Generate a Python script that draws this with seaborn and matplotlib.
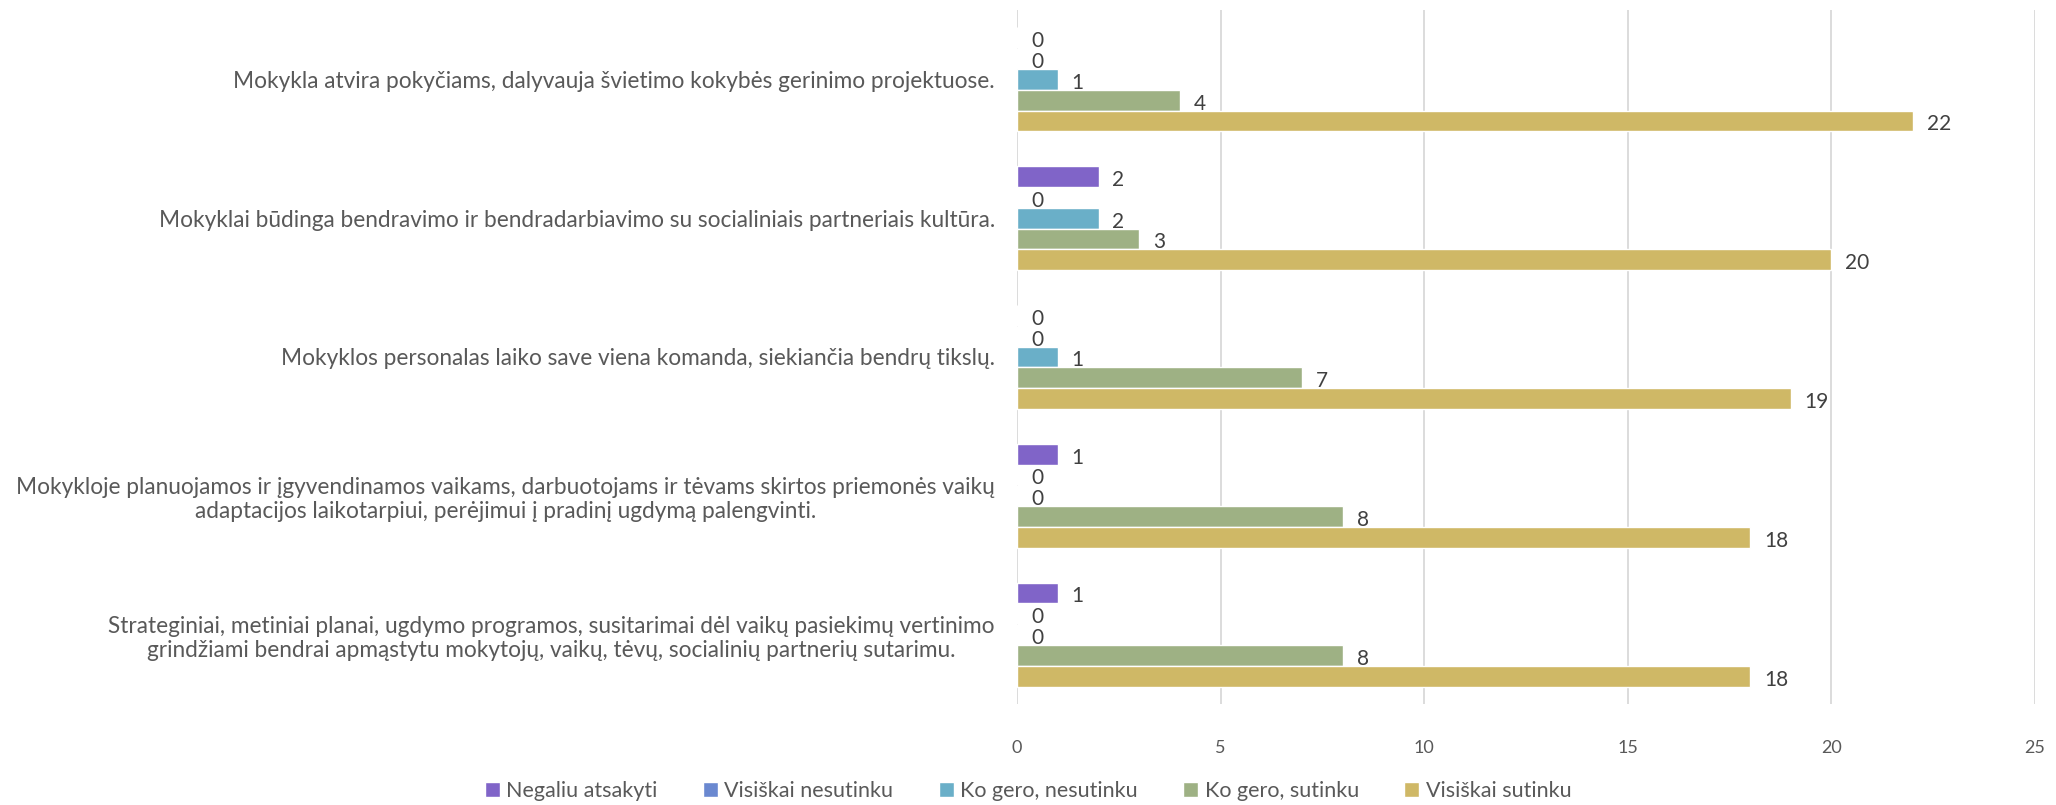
import matplotlib
matplotlib.use("Agg")
import matplotlib.pyplot as plt
import seaborn as sns
import pandas as pd

categories = [
    "Mokykla atvira pokyčiams, dalyvauja švietimo kokybės gerinimo projektuose.",
    "Mokyklai būdinga bendravimo ir bendradarbiavimo su socialiniais partneriais kultūra.",
    "Mokyklos personalas laiko save viena komanda, siekiančia bendrų tikslų.",
    "Mokykloje planuojamos ir įgyvendinamos vaikams, darbuotojams ir tėvams skirtos priemonės vaikų\nadaptacijos laikotarpiui, perėjimui į pradinį ugdymą palengvinti.",
    "Strateginiai, metiniai planai, ugdymo programos, susitarimai dėl vaikų pasiekimų vertinimo\ngrindžiami bendrai apmąstytu mokytojų, vaikų, tėvų, socialinių partnerių sutarimu.",
]
series = ["Negaliu atsakyti", "Visiškai nesutinku", "Ko gero, nesutinku",
          "Ko gero, sutinku", "Visiškai sutinku"]
negaliu = [0, 2, 0, 1, 1]
visiskai_nesutinku = [0, 0, 0, 0, 0]
ko_gero_nesutinku = [1, 2, 1, 0, 0]
ko_gero_sutinku = [4, 3, 7, 8, 8]
visiskai_sutinku = [22, 20, 19, 18, 18]
colors = ["#8064c8", "#6a88d0", "#6aafc8", "#9eb184", "#cfb866"]

values = [negaliu, visiskai_nesutinku, ko_gero_nesutinku, ko_gero_sutinku, visiskai_sutinku]
rows = []
for s, vals in zip(series, values):
    for c, v in zip(categories, vals):
        rows.append({"kategorija": c, "atsakymas": s, "kiekis": v})
df = pd.DataFrame(rows)

sns.set_style("white")
plt.rcParams["font.family"] = ["Lato", "DejaVu Sans"]
text_color = "#595959"

fig = plt.figure(figsize=(20.56, 8.05), dpi=100)
ax = fig.add_axes([0.4947, 0.1255, 0.4951, 0.8621])

sns.barplot(data=df, y="kategorija", x="kiekis", hue="atsakymas",
            order=categories, hue_order=series, palette=colors,
            orient="h", width=0.75, ax=ax, saturation=1, legend=True)

# labels sit a little below the bar centre, like in Excel
for cont in ax.containers:
    labels = ax.bar_label(cont, padding=10, fontsize=15, color="#404040")
    for t in labels:
        dx, dy = t.xyann
        t.xyann = (dx, dy - 2.5)

ax.set_xlim(0, 25)
ax.set_xticks(range(0, 26, 5))
ax.grid(axis="x", color="#d9d9d9", linewidth=1.3)
ax.set_axisbelow(True)
for sp in ax.spines.values():
    sp.set_visible(False)
ax.set_xlabel("")
ax.set_ylabel("")
ax.tick_params(axis="x", length=0, pad=26, labelsize=13, labelcolor=text_color)
ax.tick_params(axis="y", length=0, pad=16, labelsize=16.3, labelcolor=text_color)
for lbl in ax.get_yticklabels():
    lbl.set_multialignment("center")

leg = ax.legend(loc="lower center", bbox_to_anchor=((0.5 - 0.4947) / 0.4951, -0.168),
                ncol=5, frameon=False, fontsize=15.5, handlelength=0.7, handleheight=0.7,
                handletextpad=0.3, columnspacing=2.1)
for t in leg.get_texts():
    t.set_color(text_color)

fig.savefig("out.png", dpi=100)
